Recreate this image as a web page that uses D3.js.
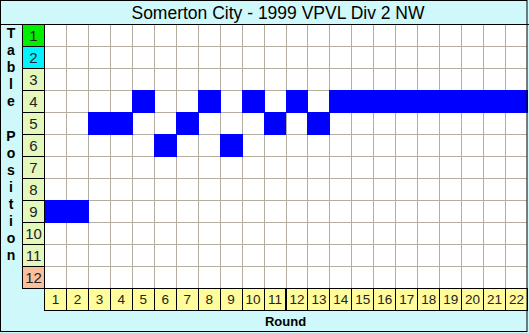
<!DOCTYPE html>
<html>
<head>
<meta charset="utf-8">
<script src="https://cdn.jsdelivr.net/npm/d3@7"></script>
<style>
  body { margin: 0; background: #fff; }
  svg { display: block; }
</style>
</head>
<body>
<div id="wrapper"></div>
<script>
const titleText = "Somerton City - 1999 VPVL Div 2 NW"
const rounds = d3.range(1, 23)
const positions = d3.range(1, 13)
// table position after each round
const tablePos = [9, 9, 5, 5, 4, 6, 5, 4, 6, 4, 5, 4, 5, 4, 4, 4, 4, 4, 4, 4, 4, 4]
const yLabel = "Table Position"
const xLabel = "Round"

const width = 529
const height = 333
let dimensions = {
    width: width,
    height: height,
    margin: { top: 24, right: 2, bottom: 45, left: 44 },
}
dimensions.boundedWidth = dimensions.width - dimensions.margin.left - dimensions.margin.right
dimensions.boundedHeight = dimensions.height - dimensions.margin.top - dimensions.margin.bottom

const wrapper = d3.select("#wrapper").append("svg")
    .attr("width", dimensions.width)
    .attr("height", dimensions.height)

// background
wrapper.append("rect")
    .attr("x", 0).attr("y", 0)
    .attr("width", width).attr("height", height)
    .attr("fill", "#cff8fa")

const xScaler = d3.scaleBand()
    .domain(rounds)
    .range([dimensions.margin.left, dimensions.margin.left + dimensions.boundedWidth])
const yScaler = d3.scaleBand()
    .domain(positions)
    .range([dimensions.margin.top, dimensions.margin.top + dimensions.boundedHeight])

// plot area
wrapper.append("rect")
    .attr("x", xScaler.range()[0])
    .attr("y", yScaler.range()[0])
    .attr("width", dimensions.boundedWidth)
    .attr("height", dimensions.boundedHeight)
    .attr("fill", "#ffffff")

// grid lines
const grid = wrapper.append("g").attr("stroke", "#b4ada0").attr("stroke-width", 1)
grid.selectAll("line.v").data(rounds.slice(1)).enter().append("line")
    .attr("x1", d => Math.round(xScaler(d)) + 0.5)
    .attr("x2", d => Math.round(xScaler(d)) + 0.5)
    .attr("y1", yScaler.range()[0])
    .attr("y2", yScaler.range()[1])
grid.selectAll("line.h").data(positions.slice(1)).enter().append("line")
    .attr("y1", d => Math.round(yScaler(d)) + 0.5)
    .attr("y2", d => Math.round(yScaler(d)) + 0.5)
    .attr("x1", xScaler.range()[0])
    .attr("x2", xScaler.range()[1])

// position cells
wrapper.append("g").selectAll("rect").data(tablePos).enter().append("rect")
    .attr("x", (d, i) => Math.round(xScaler(rounds[i])))
    .attr("y", d => Math.round(yScaler(d)))
    .attr("width", (d, i) => Math.round(xScaler(rounds[i]) + xScaler.bandwidth()) - Math.round(xScaler(rounds[i])) + 1)
    .attr("height", d => Math.round(yScaler(d) + yScaler.bandwidth()) - Math.round(yScaler(d)) + 1)
    .attr("fill", "#0000ff")

// row labels (table positions)
const rowColor = d => d === 1 ? "#00ee00" : d === 2 ? "#00f4fc" : d === positions.length ? "#f8c09c" : "#e4f8bc"
const rowG = wrapper.append("g")
rowG.selectAll("rect").data(positions).enter().append("rect")
    .attr("x", 22.5)
    .attr("y", d => Math.round(yScaler(d)) + 0.5)
    .attr("width", 22)
    .attr("height", d => Math.round(yScaler(d) + yScaler.bandwidth()) - Math.round(yScaler(d)))
    .attr("fill", rowColor)
    .attr("stroke", "#000")
rowG.selectAll("text").data(positions).enter().append("text")
    .attr("x", 33.5)
    .attr("y", d => yScaler(d) + yScaler.bandwidth() / 2 + 5.5)
    .attr("text-anchor", "middle")
    .style("font-family", "Arial, 'Liberation Sans', sans-serif")
    .style("font-size", "15px")
    .attr("fill", "#222")
    .text(d => d)

// column labels (rounds)
const colG = wrapper.append("g")
const labelTop = yScaler.range()[1]
colG.selectAll("rect").data(rounds).enter().append("rect")
    .attr("x", d => Math.round(xScaler(d)) + 0.5)
    .attr("y", labelTop + 0.5)
    .attr("width", d => Math.round(xScaler(d) + xScaler.bandwidth()) - Math.round(xScaler(d)))
    .attr("height", 22)
    .attr("fill", "#fffc9c")
    .attr("stroke", "#000")
colG.selectAll("text").data(rounds).enter().append("text")
    .attr("x", d => xScaler(d) + xScaler.bandwidth() / 2 + 0.5)
    .attr("y", labelTop + 16)
    .attr("text-anchor", "middle")
    .style("font-family", "Arial, 'Liberation Sans', sans-serif")
    .style("font-size", "13.5px")
    .attr("fill", "#222")
    .text(d => d)

// axis titles
wrapper.append("text")
    .attr("x", xScaler.range()[0] + dimensions.boundedWidth / 2)
    .attr("y", 326)
    .attr("text-anchor", "middle")
    .style("font-family", "Arial, 'Liberation Sans', sans-serif")
    .style("font-size", "13px")
    .style("font-weight", "bold")
    .text(xLabel)

wrapper.append("g").selectAll("text").data(yLabel.split("")).enter().append("text")
    .attr("x", 11)
    .attr("y", (d, i) => 38 + i * 17.1)
    .attr("text-anchor", "middle")
    .style("font-family", "Arial, 'Liberation Sans', sans-serif")
    .style("font-size", "14px")
    .style("font-weight", "bold")
    .text(d => d)

// title
wrapper.append("line")
    .attr("x1", 0).attr("x2", width)
    .attr("y1", 24.5).attr("y2", 24.5)
    .attr("stroke", "#000")
wrapper.append("text")
    .attr("x", 278)
    .attr("y", 19)
    .attr("text-anchor", "middle")
    .style("font-family", "Arial, 'Liberation Sans', sans-serif")
    .style("font-size", "17.5px")
    .text(titleText)

// outer border
wrapper.append("rect")
    .attr("x", 0.5).attr("y", 0.5)
    .attr("width", 526.5).attr("height", 331)
    .attr("fill", "none")
    .attr("stroke", "#000")
</script>
</body>
</html>
